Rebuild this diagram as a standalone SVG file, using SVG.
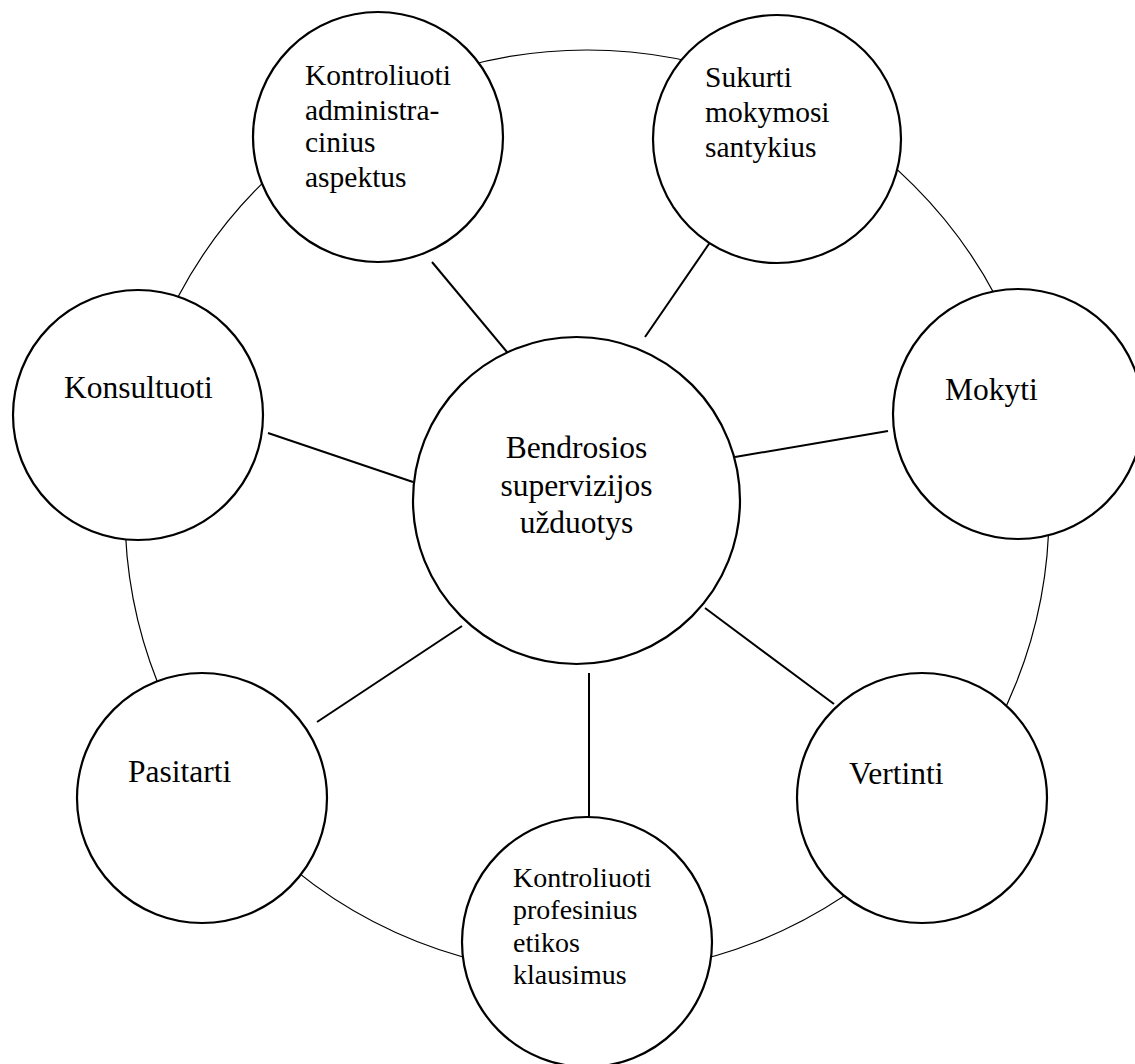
<svg xmlns="http://www.w3.org/2000/svg" width="1135" height="1064" viewBox="0 0 1135 1064">
<style>
.ring{fill:none;stroke:#000;stroke-width:1.2}
.node{fill:#fff;stroke:#000;stroke-width:2.2}
.conn line{stroke:#000;stroke-width:2}
text{font-family:"Liberation Serif","Times New Roman",serif;fill:#000}
.big{font-size:31.5px}
.mid{font-size:29.5px}
.sm{font-size:28px}
</style>
<rect width="1135" height="1064" fill="#fff"/>
<circle class="ring" cx="587" cy="512" r="462"/>
<g id="connectors" class="conn">
<line x1="432" y1="262" x2="512" y2="358"/>
<line x1="713" y1="238" x2="645" y2="337"/>
<line x1="268" y1="433" x2="413" y2="482"/>
<line x1="735" y1="457" x2="888" y2="431"/>
<line x1="462" y1="626" x2="317" y2="722"/>
<line x1="589" y1="673" x2="589" y2="817"/>
<line x1="705" y1="608" x2="834" y2="704"/>
</g>
<g id="node-center">
<circle class="node" cx="576.5" cy="500.5" r="163.5"/>
<text class="big" text-anchor="middle" font-size="32"><tspan x="576.5" y="458">Bendrosios</tspan><tspan x="576.5" y="496">supervizijos</tspan><tspan x="576.5" y="533">užduotys</tspan></text>
</g>
<g id="node-admin">
<circle class="node" cx="378" cy="137" r="125"/>
<text class="mid"><tspan x="305" y="85">Kontroliuoti</tspan><tspan x="305" y="120">administra-</tspan><tspan x="305" y="152">cinius</tspan><tspan x="305" y="187">aspektus</tspan></text>
</g>
<g id="node-sukurti">
<circle class="node" cx="777" cy="139" r="124"/>
<text class="mid"><tspan x="705" y="87">Sukurti</tspan><tspan x="705" y="122">mokymosi</tspan><tspan x="705" y="157">santykius</tspan></text>
</g>
<g id="node-konsultuoti">
<circle class="node" cx="138" cy="415" r="125"/>
<text class="big" x="64" y="398">Konsultuoti</text>
</g>
<g id="node-mokyti">
<circle class="node" cx="1018" cy="414" r="125"/>
<text class="big" x="945" y="400">Mokyti</text>
</g>
<g id="node-pasitarti">
<circle class="node" cx="202" cy="798" r="125"/>
<text class="big" x="128" y="782">Pasitarti</text>
</g>
<g id="node-vertinti">
<circle class="node" cx="922" cy="798" r="125"/>
<text class="big" x="849" y="784">Vertinti</text>
</g>
<g id="node-etika">
<circle class="node" cx="587" cy="942" r="125"/>
<text class="sm"><tspan x="513" y="887">Kontroliuoti</tspan><tspan x="513" y="919">profesinius</tspan><tspan x="513" y="952">etikos</tspan><tspan x="513" y="984">klausimus</tspan></text>
</g>
</svg>
